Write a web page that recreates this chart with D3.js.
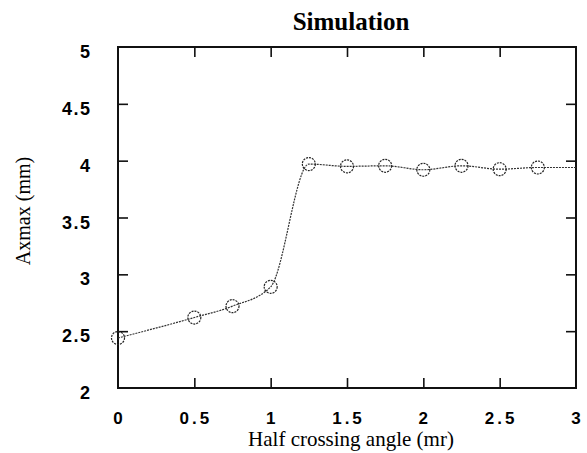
<!DOCTYPE html>
<html>
<head>
<meta charset="utf-8">
<script src="https://cdn.jsdelivr.net/npm/d3@7"></script>
<style>
body { margin:0; background:#fff; }
svg { display:block; }
</style>
</head>
<body>
<div id="chart"></div>
<script>
// values
var angle = [0, 0.5, 0.75, 1, 1.25, 1.5, 1.75, 2, 2.25, 2.5, 2.75];
var axmax = [2.44, 2.62, 2.72, 2.89, 3.97, 3.95, 3.955, 3.92, 3.955, 3.925, 3.94];
// the dotted line carries on to the right edge, no marker there
var tailAngle = [3];
var tailAxmax = [3.94];
var xTicks = [0, 0.5, 1, 1.5, 2, 2.5, 3];
var yTicks = [2, 2.5, 3, 3.5, 4, 4.5, 5];

var W = 587, H = 453;
// careful: window.top is read only, so not "top"
var plotL = 118, plotR = 576, plotT = 47, plotB = 388;

var svg = d3.select('#chart').append('svg')
	.attr('width', W)
	.attr('height', H)

var x = d3.scaleLinear().domain([0, 3]).range([plotL, plotR]);
var y = d3.scaleLinear().domain([2, 5]).range([plotB, plotT]);

// ticks pointing inwards on all four sides
var tickLen = 10;
var g = svg.append('g')
g.append('g').attr('transform', 'translate(0,' + plotB + ')')
	.call(d3.axisTop(x).tickValues(xTicks.slice(1, -1)).tickSize(tickLen).tickFormat(''))
g.append('g').attr('transform', 'translate(0,' + plotT + ')')
	.call(d3.axisBottom(x).tickValues(xTicks.slice(1, -1)).tickSize(tickLen).tickFormat(''))
g.append('g').attr('transform', 'translate(' + plotL + ',0)')
	.call(d3.axisRight(y).tickValues(yTicks.slice(1, -1)).tickSize(tickLen).tickFormat(''))
g.append('g').attr('transform', 'translate(' + plotR + ',0)')
	.call(d3.axisLeft(y).tickValues(yTicks.slice(1, -1)).tickSize(tickLen).tickFormat(''))
g.selectAll('.domain').remove()
g.selectAll('.tick line').attr('stroke', '#111').attr('stroke-width', 1.6)

// frame
svg.append('rect')
	.attr('x', plotL).attr('y', plotT)
	.attr('width', plotR - plotL).attr('height', plotB - plotT)
	.attr('fill', 'none')
	.attr('stroke', '#111')
	.attr('stroke-width', 2)

// tick labels, wide spaced like the scan
var labelFont = '"Liberation Sans", Arial, sans-serif';
svg.append('g').selectAll('text').data(xTicks).enter()
	.append('text')
	.attr('x', function(d){ return x(d) + 1.5 })
	.attr('y', 424)
	.attr('text-anchor', 'middle')
	.style('font-family', labelFont)
	.style('font-weight', 'bold')
	.style('font-size', '17px')
	.style('letter-spacing', '3px')
	.text(function(d){ return d })
svg.append('g').selectAll('text').data(yTicks).enter()
	.append('text')
	.attr('x', 91.5)
	.attr('y', function(d){ return y(d) + 11 })
	.attr('text-anchor', 'end')
	.style('font-family', labelFont)
	.style('font-weight', 'bold')
	.style('font-size', '18px')
	.style('letter-spacing', '1.5px')
	.text(function(d){ return d })

// titles
var serif = '"Liberation Serif", "Times New Roman", serif';
svg.append('text')
	.attr('x', 351).attr('y', 30)
	.attr('text-anchor', 'middle')
	.style('font-family', serif)
	.style('font-weight', 'bold')
	.style('font-size', '25px')
	.text('Simulation')
svg.append('text')
	.attr('x', 351).attr('y', 446)
	.attr('text-anchor', 'middle')
	.style('font-family', serif)
	.style('font-size', '21px')
	.text('Half crossing angle (mr)')
svg.append('text')
	.attr('transform', 'translate(30,211) rotate(-90)')
	.attr('text-anchor', 'middle')
	.style('font-family', serif)
	.style('font-size', '20px')
	.text('Axmax (mm)')

// dotted line through all points
var pts = angle.map(function(d, i){ return [d, axmax[i]] })
	.concat(tailAngle.map(function(d, i){ return [d, tailAxmax[i]] }));
var line = d3.line()
	.x(function(d){ return x(d[0]) })
	.y(function(d){ return y(d[1]) })
	.curve(d3.curveMonotoneX)
svg.append('path')
	.datum(pts)
	.attr('d', line)
	.attr('fill', 'none')
	.attr('stroke', '#333')
	.attr('stroke-width', 1.2)
	.attr('stroke-dasharray', '2,1')

// open circle markers
svg.append('g').selectAll('circle').data(angle).enter()
	.append('circle')
	.attr('cx', function(d){ return x(d) })
	.attr('cy', function(d, i){ return y(axmax[i]) })
	.attr('r', 6.5)
	.attr('fill', 'none')
	.attr('stroke', '#222')
	.attr('stroke-width', 1.2)
	.attr('stroke-dasharray', '2,1')
</script>
</body>
</html>
